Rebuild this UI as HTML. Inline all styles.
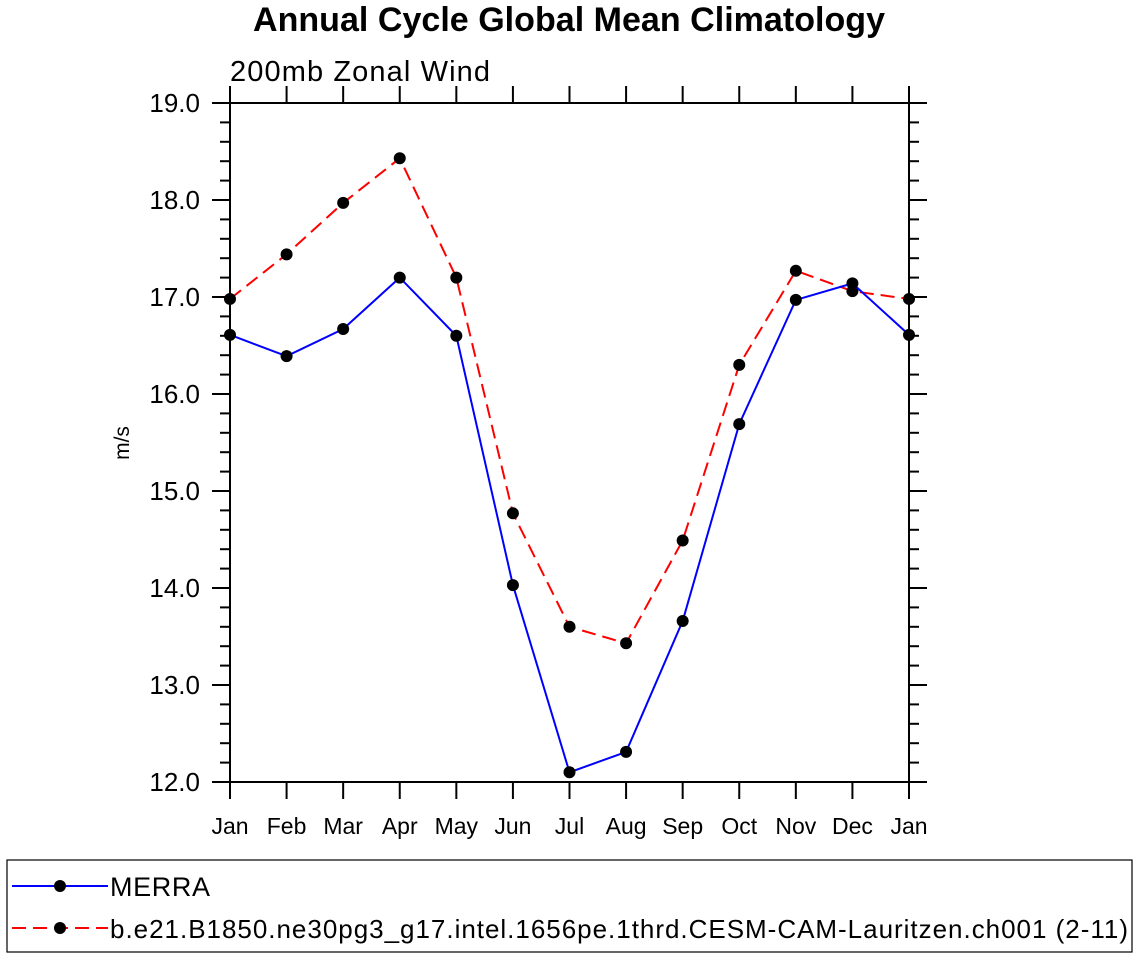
<!DOCTYPE html>
<html><head><meta charset="utf-8"><style>
body{margin:0;background:#fff;font-family:"Liberation Sans",sans-serif}
</style></head><body>
<svg width="1138" height="958" xmlns="http://www.w3.org/2000/svg" font-family="Liberation Sans, sans-serif">
<text x="569" y="31" text-anchor="middle" font-size="34" font-weight="bold" textLength="632">Annual Cycle Global Mean Climatology</text>
<text x="230" y="81" font-size="29" textLength="260">200mb Zonal Wind</text>
<text transform="translate(129,443) rotate(-90)" text-anchor="middle" font-size="21">m/s</text>
<g id="axes"></g>
<g id="series"></g>
<rect x="7" y="860" width="1125" height="92" fill="none" stroke="#000" stroke-width="1.2"/>
<g>
<line x1="12" y1="886" x2="108" y2="886" stroke="#00f" stroke-width="2"/>
<circle cx="60" cy="886" r="6"/>
<text x="110" y="896" font-size="27" textLength="100">MERRA</text>
</g>
<g>
<line x1="12" y1="928" x2="108" y2="928" stroke="#f00" stroke-width="2" stroke-dasharray="14,7"/>
<circle cx="60" cy="928" r="6"/>
<text x="110" y="938" font-size="26" textLength="1018">b.e21.B1850.ne30pg3_g17.intel.1656pe.1thrd.CESM-CAM-Lauritzen.ch001 (2-11)</text>
</g>
</svg>
<script>
const months=["Jan","Feb","Mar","Apr","May","Jun","Jul","Aug","Sep","Oct","Nov","Dec","Jan"];
const merra=[16.61,16.39,16.67,17.20,16.60,14.03,12.10,12.31,13.66,15.69,16.97,17.14,16.61];
const model=[16.98,17.44,17.97,18.43,17.20,14.77,13.60,13.43,14.49,16.30,17.27,17.06,16.98];
const yTicks=["12.0","13.0","14.0","15.0","16.0","17.0","18.0","19.0"];
const L=230,R=909,T=103,B=782,ymin=12,ymax=19;
const xs=i=>L+(R-L)*i/(months.length-1);
const ys=v=>B-(v-ymin)/(ymax-ymin)*(B-T);
const NS="http://www.w3.org/2000/svg";
function mk(t,a,p){const e=document.createElementNS(NS,t);for(const k in a)e.setAttribute(k,a[k]);p.appendChild(e);return e;}
const ax=document.getElementById('axes');
const box=mk('rect',{x:L,y:T,width:R-L,height:B-T,fill:'none',stroke:'#000','stroke-width':2},ax);


months.forEach((m,i)=>{const x=xs(i);
mk('line',{x1:x,y1:B,x2:x,y2:B+17,stroke:'#000','stroke-width':2},ax);
mk('line',{x1:x,y1:T,x2:x,y2:T-17,stroke:'#000','stroke-width':2},ax);
const t=mk('text',{x:x,y:B+52,'text-anchor':'middle','font-size':23},ax);t.textContent=m;

});
for(let k=0;k<=35;k++){const v=ymin+k*0.2,y=ys(v);const major=k%5===0;const len=major?18:10;
mk('line',{x1:L,y1:y,x2:L-len,y2:y,stroke:'#000','stroke-width':2},ax);
mk('line',{x1:R,y1:y,x2:R+len,y2:y,stroke:'#000','stroke-width':2},ax);}
yTicks.forEach(s=>{const v=parseFloat(s);const t=mk('text',{x:200,y:ys(v)+9,'text-anchor':'end','font-size':26},ax);t.textContent=s;

});
const sg=document.getElementById('series');
function draw(vals,col,dash,name){
const p=mk('polyline',{points:vals.map((v,i)=>xs(i)+','+ys(v)).join(' '),fill:'none',stroke:col,'stroke-width':2,'stroke-dasharray':dash},sg);


vals.forEach((v,i)=>{const c=mk('circle',{cx:xs(i),cy:ys(v),r:6,fill:'#000'},sg);

});}
draw(model,'#f00','14,7','model');
draw(merra,'#00f','none','merra');
</script>
</body></html>
